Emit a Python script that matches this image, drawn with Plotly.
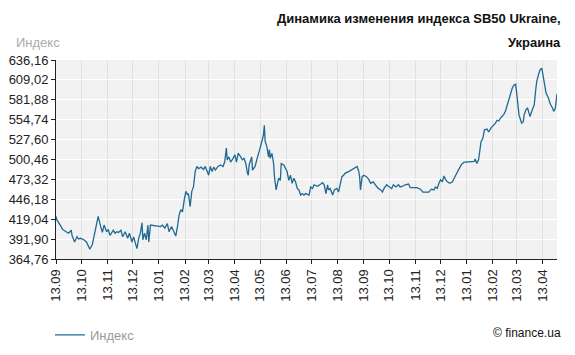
import plotly.graph_objects as go

# ---- data ----
dates = [
    "2012-09-13","2012-09-14","2012-09-18","2012-09-21","2012-09-25","2012-09-28","2012-10-01","2012-10-02",
    "2012-10-05","2012-10-08","2012-10-10","2012-10-12","2012-10-16","2012-10-19","2012-10-22","2012-10-23",
    "2012-10-26","2012-10-29","2012-10-30","2012-11-01","2012-11-02","2012-11-05","2012-11-07","2012-11-09",
    "2012-11-12","2012-11-14","2012-11-16","2012-11-20","2012-11-22","2012-11-24","2012-11-26","2012-11-29",
    "2012-12-01","2012-12-04","2012-12-07","2012-12-09","2012-12-12","2012-12-14","2012-12-16","2012-12-18",
    "2012-12-20","2012-12-22","2012-12-24","2012-12-25","2012-12-27","2012-12-29","2012-12-31","2013-01-01",
    "2013-01-03","2013-01-07","2013-01-11","2013-01-15","2013-01-17","2013-01-20","2013-01-23","2013-01-25",
    "2013-01-28","2013-01-31","2013-02-02","2013-02-04","2013-02-06","2013-02-08","2013-02-10","2013-02-12",
    "2013-02-14","2013-02-16","2013-02-17","2013-02-19","2013-02-21","2013-02-23","2013-02-25","2013-02-27",
    "2013-03-01","2013-03-04","2013-03-07","2013-03-09","2013-03-11","2013-03-13","2013-03-15","2013-03-17",
    "2013-03-19","2013-03-21","2013-03-24","2013-03-27","2013-03-30","2013-04-01","2013-04-03","2013-04-04",
    "2013-04-06","2013-04-08","2013-04-11","2013-04-13","2013-04-15","2013-04-17","2013-04-20","2013-04-22",
    "2013-04-24","2013-04-26","2013-04-28","2013-04-29","2013-04-30","2013-05-03","2013-05-04","2013-05-07",
    "2013-05-10","2013-05-12","2013-05-13","2013-05-15","2013-05-17","2013-05-18","2013-05-19","2013-05-21",
    "2013-05-23","2013-05-24","2013-05-25","2013-05-27","2013-05-29","2013-05-30","2013-06-01","2013-06-03",
    "2013-06-04","2013-06-06","2013-06-07","2013-06-10","2013-06-12","2013-06-14","2013-06-16","2013-06-18",
    "2013-06-20","2013-06-22","2013-06-24","2013-06-26","2013-06-28","2013-06-30","2013-07-02","2013-07-04",
    "2013-07-06","2013-07-10","2013-07-12","2013-07-14","2013-07-16","2013-07-20","2013-07-24","2013-07-26",
    "2013-07-28","2013-07-30","2013-08-01","2013-08-02","2013-08-04","2013-08-07","2013-08-09","2013-08-12",
    "2013-08-14","2013-08-16","2013-08-18","2013-08-20","2013-08-22","2013-08-26","2013-08-30","2013-09-03",
    "2013-09-05","2013-09-07","2013-09-08","2013-09-09","2013-09-11","2013-09-13","2013-09-16","2013-09-19",
    "2013-09-21","2013-09-24","2013-09-27","2013-09-30","2013-10-03","2013-10-05","2013-10-07","2013-10-10",
    "2013-10-12","2013-10-16","2013-10-18","2013-10-21","2013-10-24","2013-10-26","2013-10-29","2013-11-01",
    "2013-11-05","2013-11-07","2013-11-11","2013-11-15","2013-11-19","2013-11-22","2013-11-25","2013-11-29",
    "2013-12-02","2013-12-05","2013-12-07","2013-12-09","2013-12-11","2013-12-13","2013-12-15","2013-12-17",
    "2013-12-19","2013-12-21","2013-12-24","2013-12-27","2013-12-30","2014-01-01","2014-01-04","2014-01-07",
    "2014-01-10","2014-01-12","2014-01-15","2014-01-20","2014-01-22","2014-01-23","2014-01-25","2014-01-27",
    "2014-01-28","2014-01-30","2014-02-01","2014-02-03","2014-02-06","2014-02-08","2014-02-11","2014-02-14",
    "2014-02-16","2014-02-18","2014-02-20","2014-02-22","2014-02-24","2014-02-26","2014-02-28","2014-03-02",
    "2014-03-04","2014-03-06","2014-03-08","2014-03-10","2014-03-12","2014-03-13","2014-03-14","2014-03-16",
    "2014-03-18","2014-03-19","2014-03-21","2014-03-22","2014-03-24","2014-03-26","2014-03-28","2014-03-29",
    "2014-03-31","2014-04-01","2014-04-03","2014-04-05","2014-04-06","2014-04-08","2014-04-10","2014-04-12",
    "2014-04-13","2014-04-15","2014-04-17","2014-04-20","2014-04-22","2014-04-25","2014-04-26","2014-04-28",
    "2014-04-29","2014-04-30",
]
index_values = [
    423,418,411,405,402,400,404,397,
    388,395,392,393,391,388,381,378,
    384,400,405,416,423,409,401,411,
    402,405,397,404,400,402,401,404,
    395,402,393,400,388,395,385,379,
    393,400,414,391,400,391,411,388,
    411,410,409,409,411,407,413,402,
    409,400,396,409,425,432,429,445,
    457,452,454,436,457,463,484,491,
    488,490,487,491,486,479,491,484,
    490,486,491,493,491,497,516,500,
    504,497,502,507,497,509,504,500,
    502,495,482,479,493,504,486,491,
    504,511,516,525,534,547,525,518,
    504,514,502,509,495,477,459,470,
    475,472,495,493,488,484,472,479,
    468,475,470,461,459,452,454,452,
    454,452,463,461,466,464,467,469,
    466,454,466,459,461,452,459,461,
    456,466,477,479,482,484,487,490,
    491,484,477,459,477,479,477,473,
    468,470,466,461,459,456,461,466,
    464,461,466,463,466,463,464,466,
    467,462,462,462,460,456,456,456,
    460,459,463,461,468,473,470,478,
    473,470,468,470,477,482,488,494,
    497,497,497,497,498,501,495,500,
    511,525,529,541,542,538,544,547,
    550,554,553,557,559,562,567,575,
    584,592,598,602,603,593,579,561,
    554,550,552,561,568,571,563,559,
    566,570,575,598,607,616,623,625,
    618,600,591,584,576,570,566,570,
    579,590,
]

x_tick_dates = [
    "2012-09-13","2012-10-13","2012-11-13","2012-12-13","2013-01-13","2013-02-13","2013-03-13",
    "2013-04-13","2013-05-13","2013-06-13","2013-07-13","2013-08-13","2013-09-13","2013-10-13",
    "2013-11-13","2013-12-13","2014-01-13","2014-02-13","2014-03-13","2014-04-13",
]
x_tick_labels = ["13.09","13.10","13.11","13.12","13.01","13.02","13.03","13.04","13.05","13.06",
                 "13.07","13.08","13.09","13.10","13.11","13.12","13.01","13.02","13.03","13.04"]
y_tick_values = [364.76, 391.90, 419.04, 446.18, 473.32, 500.46, 527.60, 554.74, 581.88, 609.02, 636.16]
y_tick_labels = ["364,76","391,90","419,04","446,18","473,32","500,46","527,60","554,74","581,88","609,02","636,16"]

title_lines = ["Динамика изменения индекса SB50 Ukraine,", "Украина"]
series_name = "Индекс"
y_axis_title = "Индекс"
credit = "© finance.ua"

LINE_COLOR = "#1e6a93"
FONT = "Liberation Sans"

fig = go.Figure()
fig.add_trace(go.Scatter(
    x=dates, y=index_values, mode="lines", name=series_name,
    line=dict(color=LINE_COLOR, width=1.3),
))

# the page body has an 8px default margin, so the figure is 8px smaller and margins are offset
fig.update_layout(
    width=567, height=347,
    margin=dict(l=48, r=18, t=52, b=96, autoexpand=False),
    paper_bgcolor="white",
    plot_bgcolor="#f2f2f2",
    font=dict(family=FONT, size=13, color="#222222"),
    showlegend=True,
    legend=dict(
        orientation="h", x=0.074, y=0.058, xref="container", yref="container",
        xanchor="left", yanchor="middle",
        font=dict(family=FONT, size=13, color="#9a9a9a"),
        bgcolor="rgba(0,0,0,0)", itemwidth=30,
    ),
    xaxis=dict(
        type="date", automargin=False,
        range=["2012-09-13", "2014-04-30"],
        tickmode="array", tickvals=x_tick_dates, ticktext=x_tick_labels,
        tickangle=-90,
        tickfont=dict(family=FONT, size=13, color="#222222"),
        showgrid=True, gridcolor="#e0e0e0", gridwidth=1,
        showline=True, linecolor="#222222", linewidth=1,
        ticks="outside", ticklen=4, tickcolor="#222222",
        zeroline=False, fixedrange=True,
    ),
    yaxis=dict(
        automargin=False,
        range=[364.76, 636.16],
        tickmode="array", tickvals=y_tick_values, ticktext=y_tick_labels,
        tickfont=dict(family=FONT, size=13, color="#222222"),
        showgrid=True, gridcolor="#ffffff", gridwidth=1,
        showline=True, linecolor="#222222", linewidth=1,
        ticks="outside", ticklen=4, tickcolor="#222222",
        zeroline=False, fixedrange=True,
    ),
    annotations=[
        dict(text="<b>" + title_lines[0] + "</b>", xref="paper", yref="paper",
             x=1.0, y=1.0, xanchor="right", yanchor="middle", xshift=6, yshift=42,
             showarrow=False, font=dict(family=FONT, size=13, color="#111111")),
        dict(text="<b>" + title_lines[1] + "</b>", xref="paper", yref="paper",
             x=1.0, y=1.0, xanchor="right", yanchor="middle", xshift=6, yshift=18,
             showarrow=False, font=dict(family=FONT, size=13, color="#111111")),
        dict(text=y_axis_title, xref="paper", yref="paper",
             x=0.0, y=1.0, xanchor="center", yanchor="middle", xshift=-18, yshift=18,
             showarrow=False, font=dict(family=FONT, size=13, color="#aaaaaa")),
        dict(text=credit, xref="paper", yref="paper",
             x=1.0, y=0.0, xanchor="right", yanchor="middle", xshift=6, yshift=-74,
             showarrow=False, font=dict(family=FONT, size=12, color="#111111")),
    ],
)

fig.write_html("out.html")
